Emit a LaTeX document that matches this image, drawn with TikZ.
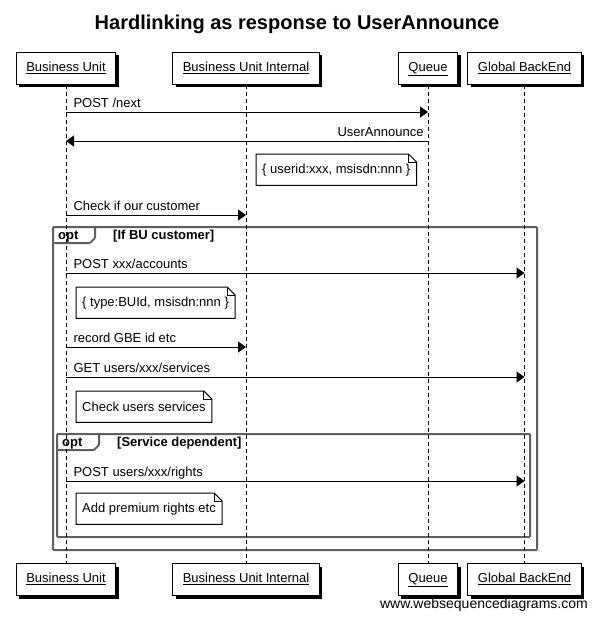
\documentclass[tikz,border=0pt]{standalone}
\usepackage{fontspec}
\setmainfont{Liberation Sans}
\usetikzlibrary{positioning,arrows.meta,shadows,calc}
\definecolor{framecol}{HTML}{5F5F5F}
\newcommand{\wsdnote}[4]{% #1 name, #2 left x, #3 top y, #4 text
  \node[notetext, anchor=north west] (#1) at (#2,#3) {#4};
  \draw[line width=1pt] (#1.south west) -- (#1.north west) -- ([xshift=-8pt]#1.north east) -- ([yshift=-8pt]#1.north east) -- (#1.south east) -- cycle;
  \draw[line width=1pt] ([xshift=-8pt]#1.north east) |- ([yshift=-8pt]#1.north east);
}
\newcommand{\optframe}[6]{% #1 name, #2 left, #3 top, #4 right, #5 bottom, #6 condition
  \draw[frame] (#2,#3) rectangle (#4,#5);
  \draw[frame] (#2,#3+16) -- (#2+37,#3+16) -- (#2+42,#3+11) -- (#2+42,#3);
  \node[framelabel, anchor=base west] (#1opt) at (#2+5,#3+12.5) {opt};
  \node[framelabel, anchor=base west] (#1cond) at (#2+60,#3+12.5) {#6};
}
\newcommand{\msgto}[4]{% #1 from, #2 to, #3 y, #4 label
  \draw[msg] (#1.south |- 0,#3) -- (#2.south |- 0,#3)
    node[msglabel, pos=0, anchor=base west, xshift=7pt, yshift=4.5pt] {#4};
}
\newcommand{\msgback}[4]{% #1 from, #2 to, #3 y, #4 label
  \draw[msg] (#1.south |- 0,#3) -- (#2.south |- 0,#3)
    node[msglabel, pos=0, anchor=base east, xshift=-4pt, yshift=4.5pt] {#4};
}

\begin{document}
\begin{tikzpicture}[x=1pt, y=-1pt,
    actor/.style={draw, fill=white, line width=1pt, minimum height=32pt, inner xsep=10pt,
      text height=9.5pt, text depth=3pt, font=\fontsize{13}{15}\selectfont,
      drop shadow={shadow xshift=3pt, shadow yshift=-3pt, fill=black, opacity=1}},
    lifeline/.style={line width=1pt, dash pattern=on 4pt off 3pt},
    msg/.style={line width=1pt, -{Triangle[length=8pt,width=11pt]}},
    msglabel/.style={font=\fontsize{13}{15}\selectfont, inner sep=0pt},
    notetext/.style={fill=white, inner xsep=6pt, minimum height=31pt, font=\fontsize{13}{15}\selectfont},
    frame/.style={draw=framecol, line width=2pt, rounded corners=1pt},
    framelabel/.style={font=\bfseries\fontsize{13}{15}\selectfont, inner sep=0pt}]
  \useasboundingbox (0,0) rectangle (596,619);

  \node[font=\bfseries\fontsize{20}{24}\selectfont] (title) at (297,24) {Hardlinking as response to UserAnnounce};

  % participants
  \node[actor] (bu)   at (66,68)    {\underline{Business Unit}};
  \node[actor] (bui)  at (246,68)   {\underline{Business Unit Internal}};
  \node[actor] (q)    at (428,68)   {\underline{Queue}};
  \node[actor] (gbe)  at (524.5,68) {\underline{Global BackEnd}};
  \node[actor] (bu2)  at (66,579.5)    {\underline{Business Unit}};
  \node[actor] (bui2) at (246,579.5)   {\underline{Business Unit Internal}};
  \node[actor] (q2)   at (428,579.5)   {\underline{Queue}};
  \node[actor] (gbe2) at (524.5,579.5) {\underline{Global BackEnd}};

  % fragments
  \optframe{bucust}{53}{227}{537}{550}{[If BU customer]}
  \optframe{svcdep}{57}{434}{530}{537}{[Service dependent]}

  % lifelines
  \draw[lifeline] (bu) -- (bu2);
  \draw[lifeline] (bui) -- (bui2);
  \draw[lifeline] (q) -- (q2);
  \draw[lifeline] (gbe) -- (gbe2);

  % messages
  \msgto{bu}{q}{112}{POST /next}
  \msgback{q}{bu}{141}{UserAnnounce}
  \wsdnote{userid}{256}{154}{\{ userid:xxx, msisdn:nnn \}}
  \msgto{bu}{bui}{215}{Check if our customer}
  \msgto{bu}{gbe}{273}{POST xxx/accounts}
  \wsdnote{typeid}{76}{287}{\{ type:BUId, msisdn:nnn \}}
  \msgto{bu}{bui}{347}{record GBE id etc}
  \msgto{bu}{gbe}{377}{GET users/xxx/services}
  \wsdnote{checksvc}{76}{391}{Check users services}
  \msgto{bu}{gbe}{481}{POST users/xxx/rights}
  \wsdnote{premium}{76}{493}{Add premium rights etc}

  \node[font=\fontsize{14}{16}\selectfont, anchor=east, inner sep=0pt] (wsd) at (588,605) {www.websequencediagrams.com};
\end{tikzpicture}
\end{document}
